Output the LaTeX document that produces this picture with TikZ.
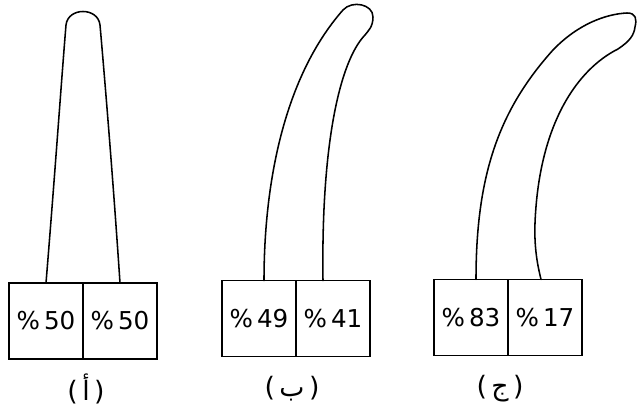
\documentclass[tikz,border=0pt]{standalone}
\usepackage{fontspec}
\setmainfont{DejaVu Sans}
\newfontfamily\arabicfont[Script=Arabic]{DejaVu Sans}
\TeXXeTstate=1
\usetikzlibrary{positioning}
\tikzset{
  cell/.style={draw,line width=2.4pt,outer sep=0pt,minimum width=3.70cm,minimum height=3.80cm,
    inner sep=0pt,font=\fontsize{35}{40}\selectfont},
  lbl/.style={font=\fontsize{38}{44}\selectfont,inner sep=0pt},
  tooth/.style={draw,line width=2.2pt,line join=round,line cap=round},
}

\begin{document}
\begin{tikzpicture}
\useasboundingbox (0,0) rectangle (31.95cm,20.65cm);
% --- Split boxes -------------------------------------------------------------

  \node[cell] (a1) at (2.30cm,4.60cm) {\%\,50};
  \node[cell,right=0pt of a1] (a2) {\%\,50};

  \node[cell] (b1) at (12.95cm,4.72cm) {\%\,49};
  \node[cell,right=0pt of b1] (b2) {\%\,41};

  \node[cell] (c1) at (23.55cm,4.78cm) {\%\,83};
  \node[cell,right=0pt of c1] (c2) {\%\,17};

% --- Captions ----------------------------------------------------------------

  \node[lbl] (la) at (4.30cm,1.20cm) {(\,{\arabicfont\beginR أ\endR}\,)};
  \node[lbl] (lb) at (14.60cm,1.20cm) {(\,{\arabicfont\beginR ب\endR}\,)};
  \node[lbl] (lc) at (25.00cm,1.20cm) {(\,{\arabicfont\beginR ج\endR}\,)};

% --- Outlines standing on the boxes -----------------------------------------

  % straight
  \draw[tooth] (a1.north) .. controls (2.75cm,12.00cm) and (3.10cm,17.00cm) .. (3.30cm,19.40cm)
    .. controls (3.40cm,20.30cm) and (4.90cm,20.30cm) .. (5.00cm,19.40cm)
    .. controls (5.30cm,16.00cm) and (5.70cm,11.00cm) .. (a2.north);

  % slightly bent
  \draw[tooth] ([xshift=0.25cm]b1.north) .. controls (13.20cm,11.50cm) and (14.20cm,16.80cm) .. (17.15cm,20.15cm)
    .. controls (17.60cm,20.65cm) and (18.65cm,20.45cm) .. (18.65cm,19.80cm)
    .. controls (18.65cm,19.30cm) and (18.40cm,19.10cm) .. (18.25cm,18.90cm)
    .. controls (17.00cm,17.60cm) and (16.05cm,13.50cm) .. ([xshift=-0.50cm]b2.north);

  % strongly bent
  \draw[tooth] ([xshift=0.25cm]c1.north) .. controls (23.80cm,12.00cm) and (25.00cm,15.20cm) .. (27.65cm,18.15cm)
    .. controls (28.90cm,19.45cm) and (30.30cm,19.95cm) .. (31.35cm,20.00cm)
    .. controls (31.80cm,20.00cm) and (31.85cm,19.70cm) .. (31.75cm,19.30cm)
    .. controls (31.70cm,18.90cm) and (31.50cm,18.60cm) .. (30.90cm,18.20cm)
    .. controls (28.90cm,17.20cm) and (26.95cm,14.50cm) .. (26.75cm,9.50cm)
    .. controls (26.70cm,8.20cm) and (26.90cm,7.30cm) .. ([xshift=-0.20cm]c2.north);

\end{tikzpicture}
\end{document}
